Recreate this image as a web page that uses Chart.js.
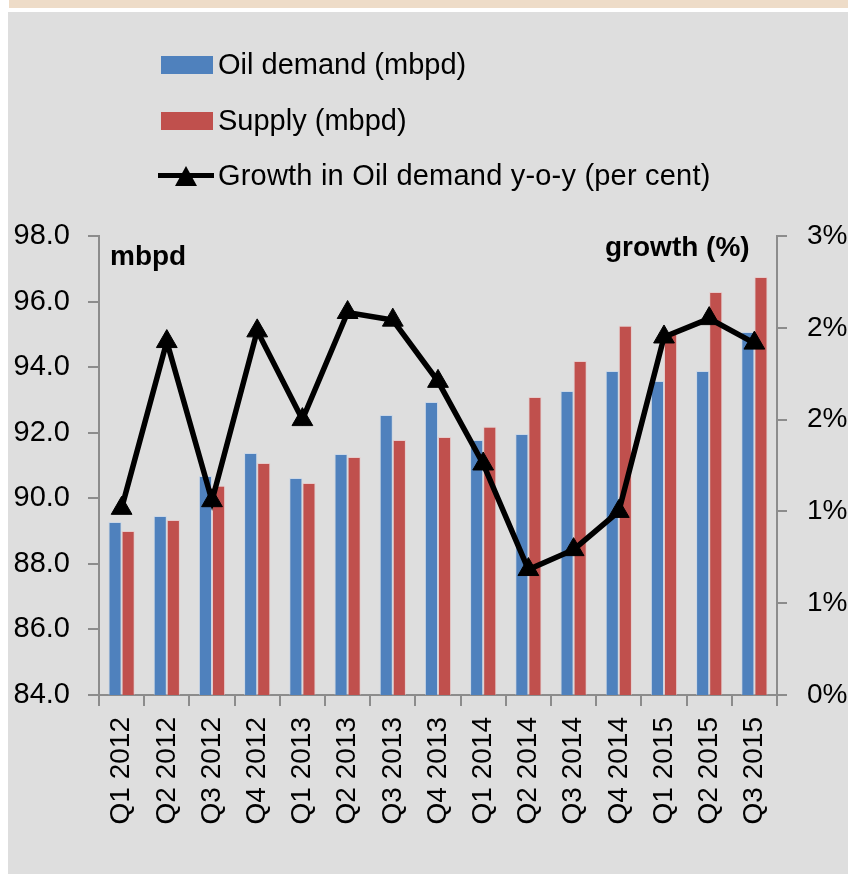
<!DOCTYPE html>
<html>
<head>
<meta charset="utf-8">
<script src="https://cdn.jsdelivr.net/npm/chart.js@4.4.1/dist/chart.umd.min.js"></script>
<style>
  html, body { margin: 0; padding: 0; background: #ffffff; }
  body { width: 848px; height: 874px; position: relative; overflow: hidden; font-family: "Liberation Sans", Arial, sans-serif; }
  #strip { position: absolute; left: 9px; top: 0; width: 839px; height: 8px; background: #eedcc8; }
  #panel { position: absolute; left: 8px; top: 12px; width: 840px; height: 862px; background: #dedede; }
  #c { position: absolute; left: 0; top: 0; }
  .lg { position: absolute; font-size: 29px; line-height: 29px; color: #000; white-space: nowrap; }
  .sw { position: absolute; }
  .ann { position: absolute; font-size: 28px; line-height: 28px; font-weight: bold; color: #000; white-space: nowrap; }
</style>
</head>
<body>
<div id="strip"></div>
<div id="panel"></div>
<canvas id="c" width="848" height="874"></canvas>

<div class="sw" style="left:161px;top:56px;width:52px;height:18px;background:#4f81bd;"></div>
<div class="lg" style="left:218px;top:50px;">Oil demand (mbpd)</div>
<div class="sw" style="left:161px;top:112px;width:52px;height:18px;background:#c0504d;"></div>
<div class="lg" style="left:218px;top:106px;">Supply (mbpd)</div>
<div class="sw" style="left:158px;top:173px;width:56px;height:5px;background:#000;"></div>
<div class="sw" style="left:175px;top:166px;width:0;height:0;border-left:11px solid transparent;border-right:11px solid transparent;border-bottom:20px solid #000;"></div>
<div class="lg" style="left:218px;top:161px;letter-spacing:0.2px;">Growth in Oil demand y-o-y (per cent)</div>

<div class="ann" style="left:110px;top:242px;">mbpd</div>
<div class="ann" style="left:605px;top:233px;">growth (%)</div>

<script>
const categories = ['Q1 2012','Q2 2012','Q3 2012','Q4 2012','Q1 2013','Q2 2013','Q3 2013','Q4 2013','Q1 2014','Q2 2014','Q3 2014','Q4 2014','Q1 2015','Q2 2015','Q3 2015'];
const demand = [89.28, 89.46, 90.68, 91.38, 90.62, 91.35, 92.54, 92.94, 91.78, 91.96, 93.27, 93.88, 93.58, 93.88, 95.07];
const supply = [89.00, 89.34, 90.38, 91.08, 90.47, 91.26, 91.78, 91.87, 92.18, 93.09, 94.19, 95.26, 95.04, 96.29, 96.75];
const growth = [1.22, 2.31, 1.27, 2.38, 1.80, 2.50, 2.45, 2.05, 1.51, 0.82, 0.95, 1.20, 2.34, 2.46, 2.30];
const leftTickLabels = ['84.0','86.0','88.0','90.0','92.0','94.0','96.0','98.0'];
const rightTickLabels = ['0%','1%','1%','2%','2%','3%'];

const axisColor = '#8c8c8c';
const fam = '"Liberation Sans", Arial, sans-serif';

new Chart(document.getElementById('c'), {
  data: {
    labels: categories,
    datasets: [
      {
        type: 'line', label: 'Growth in Oil demand y-o-y (per cent)', data: growth, yAxisID: 'y1',
        borderColor: '#000', borderWidth: 5.5, tension: 0,
        pointStyle: 'triangle', pointRadius: 12, pointBackgroundColor: '#000', pointBorderColor: '#000', pointBorderWidth: 1,
        order: 0, clip: false
      },
      {
        type: 'bar', label: 'Oil demand (mbpd)', data: demand, yAxisID: 'y',
        backgroundColor: '#4f81bd', borderColor: 'rgba(190,210,235,0.6)', borderWidth: { top: 1, left: 1, right: 1, bottom: 0 },
        categoryPercentage: 0.58, barPercentage: 1, order: 1
      },
      {
        type: 'bar', label: 'Supply (mbpd)', data: supply, yAxisID: 'y',
        backgroundColor: '#c0504d', borderColor: 'rgba(235,190,190,0.6)', borderWidth: { top: 1, left: 1, right: 1, bottom: 0 },
        categoryPercentage: 0.58, barPercentage: 1, order: 2
      }
    ]
  },
  options: {
    responsive: false,
    devicePixelRatio: 1,
    animation: false,
    layout: { padding: { top: 236, left: 0, right: 0, bottom: 0 } },
    plugins: { legend: { display: false }, tooltip: { enabled: false } },
    scales: {
      x: {
        type: 'category',
        offset: true,
        grid: { display: true, offset: true, drawOnChartArea: false, drawTicks: true, tickLength: 11, color: axisColor, lineWidth: 2 },
        border: { display: true, color: axisColor, width: 2 },
        ticks: { font: { family: fam, size: 28 }, color: '#000', maxRotation: 90, minRotation: 90, autoSkip: false, padding: 11 },
        afterFit: (s) => { s.height = 179; }
      },
      y: {
        type: 'linear', position: 'left', min: 84, max: 98,
        grid: { display: true, drawOnChartArea: false, drawTicks: true, tickLength: 11, color: axisColor, lineWidth: 2 },
        border: { display: true, color: axisColor, width: 2 },
        ticks: { font: { family: fam, size: 29 }, color: '#000', stepSize: 2, padding: 18,
          callback: (v, i) => leftTickLabels[i] },
        afterFit: (s) => { s.width = 99; }
      },
      y1: {
        type: 'linear', position: 'right', min: 0, max: 3,
        grid: { display: true, drawOnChartArea: false, drawTicks: true, tickLength: 10, color: axisColor, lineWidth: 2 },
        border: { display: true, color: axisColor, width: 2 },
        ticks: { font: { family: fam, size: 28 }, color: '#000', stepSize: 0.6, padding: 20,
          callback: (v, i) => rightTickLabels[i] },
        afterFit: (s) => { s.width = 71; }
      }
    }
  }
});
</script>
</body>
</html>
